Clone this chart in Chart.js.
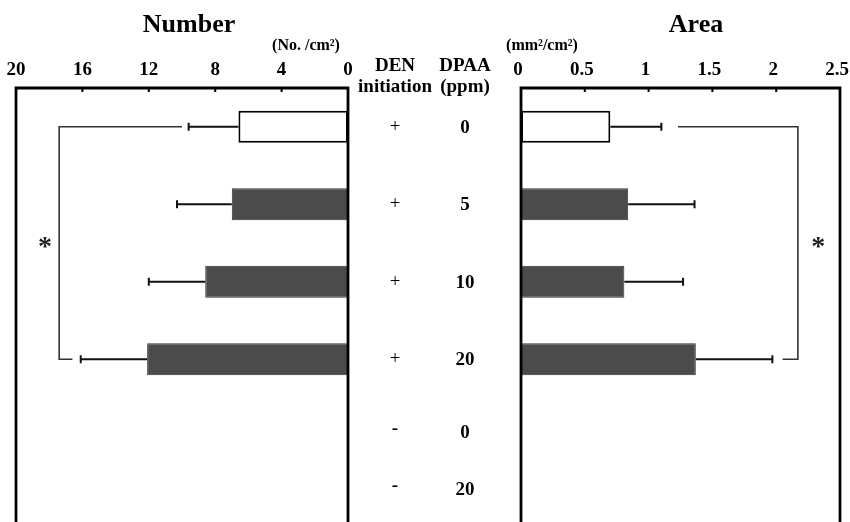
<!DOCTYPE html>
<html>
<head>
<meta charset="utf-8">
<script src="https://cdn.jsdelivr.net/npm/chart.js@4.4.1/dist/chart.umd.min.js"></script>
<style>
    html, body { margin: 0; padding: 0; background: #fff; overflow: hidden; width: 850px; height: 522px; }
    #numberChart { position: absolute; left: 0; top: 0; }
    #areaChart { position: absolute; left: 500px; top: 0; }
</style>
</head>
<body>
<canvas id="numberChart" width="500" height="553"></canvas>
<canvas id="areaChart" width="380" height="553"></canvas>
<script>
// data
const denInitiation = ['+', '+', '+', '+', '-', '-'];
const dpaaPpm = ['0', '5', '10', '20', '0', '20'];
const numberMean = [6.6, 7.0, 8.6, 12.1, null, null];
const numberSd = [3.0, 3.3, 3.4, 4.0, null, null];
const areaMean = [0.70, 0.84, 0.81, 1.37, null, null];
const areaSd = [0.40, 0.52, 0.46, 0.60, null, null];
const numberTicks = [0, 4, 8, 12, 16, 20];
const areaTicks = [0, 0.5, 1, 1.5, 2, 2.5];
// significance bracket: start, vertical, end (in axis units)
const numberSig = [10.0, 17.4, 16.6];
const areaSig = [1.23, 2.17, 2.05];

const rowLabels = dpaaPpm.map(function (p, i) { return denInitiation[i] + ' ' + p; });
const barFill = ['#ffffff', '#4b4b4b', '#4b4b4b', '#4b4b4b', '#4b4b4b', '#4b4b4b'];
const barEdge = ['#000000', '#333333', '#333333', '#333333', '#333333', '#333333'];
const serif = '"Liberation Serif", "Times New Roman", serif';

function panelPlugin(mean, sd, sig, starAt, drawText) {
    return {
        id: 'panel',
        afterDatasetsDraw: function (chart) {
            const ctx = chart.ctx;
            const a = chart.chartArea;
            const x = chart.scales.x;
            const y = chart.scales.y;
            ctx.save();

            // error bars
            ctx.strokeStyle = '#111';
            ctx.lineWidth = 2;
            mean.forEach(function (m, i) {
                if (m == null) return;
                const py = y.getPixelForValue(i);
                const x0 = x.getPixelForValue(m);
                const x1 = x.getPixelForValue(m + sd[i]);
                ctx.beginPath();
                ctx.moveTo(x0, py);
                ctx.lineTo(x1, py);
                ctx.moveTo(x1, py - 4);
                ctx.lineTo(x1, py + 4);
                ctx.stroke();
            });

            // bracket between 0 ppm and 20 ppm
            const yTop = y.getPixelForValue(0);
            const yBot = y.getPixelForValue(3);
            ctx.strokeStyle = '#333';
            ctx.lineWidth = 1.6;
            ctx.beginPath();
            ctx.moveTo(x.getPixelForValue(sig[0]), yTop);
            ctx.lineTo(x.getPixelForValue(sig[1]), yTop);
            ctx.lineTo(x.getPixelForValue(sig[1]), yBot);
            ctx.lineTo(x.getPixelForValue(sig[2]), yBot);
            ctx.stroke();

            ctx.fillStyle = '#222';
            ctx.font = 'bold 28px ' + serif;
            ctx.textAlign = 'center';
            ctx.textBaseline = 'middle';
            ctx.fillText('*', x.getPixelForValue(starAt), y.getPixelForValue(1.5) + 5);

            // box frame (open at bottom, runs off the page)
            ctx.strokeStyle = '#000';
            ctx.lineWidth = 2.8;
            ctx.beginPath();
            ctx.moveTo(a.left, chart.height);
            ctx.lineTo(a.left, a.top);
            ctx.lineTo(a.right, a.top);
            ctx.lineTo(a.right, chart.height);
            ctx.stroke();

            ctx.lineWidth = 2;
            ctx.beginPath();
            x.ticks.forEach(function (t, i) {
                const px = x.getPixelForTick(i);
                ctx.moveTo(px, a.top);
                ctx.lineTo(px, a.top + 4);
            });
            ctx.stroke();

            drawText(ctx, chart);
            ctx.restore();
        }
    };
}

function axisOptions(min, max, reverse, tickList, shift) {
    return {
        type: 'linear',
        position: 'top',
        min: min,
        max: max,
        reverse: reverse,
        afterBuildTicks: function (s) {
            s.ticks = tickList.map(function (v) { return { value: v }; });
        },
        afterFit: function (s) { s.height = 40; },
        grid: { display: false, drawTicks: false },
        border: { display: false },
        ticks: {
            color: '#000',
            padding: 7,
            labelOffset: shift,
            maxRotation: 0,
            autoSkip: false,
            font: { family: serif, size: 19, weight: 'bold' },
            callback: function (v) { return String(v); }
        }
    };
}

const baseOptions = {
    indexAxis: 'y',
    responsive: false,
    animation: false,
    plugins: { legend: { display: false }, tooltip: { enabled: false } }
};

const ntx = document.getElementById('numberChart').getContext('2d');
const numberChart = new Chart(ntx, {
    type: 'bar',
    data: {
        labels: rowLabels,
        datasets: [{
            data: numberMean,
            backgroundColor: barFill,
            borderColor: barEdge,
            borderWidth: [2, 1, 1, 1, 1, 1],
            borderSkipped: false,
            barPercentage: 0.41,
            categoryPercentage: 1
        }]
    },
    options: Object.assign({}, baseOptions, {
        layout: { padding: { left: 16, right: 152, top: 48, bottom: 0 } },
        scales: {
            x: axisOptions(0, 20, true, numberTicks, 0),
            y: { type: 'category', display: false }
        }
    }),
    plugins: [panelPlugin(numberMean, numberSd, numberSig, 18.25, function (ctx, chart) {
        const y = chart.scales.y;
        ctx.fillStyle = '#000';
        ctx.textAlign = 'center';
        ctx.textBaseline = 'middle';
        ctx.font = 'bold 26px ' + serif;
        ctx.fillText('Number', 189, 25);
        ctx.font = 'bold 16px ' + serif;
        ctx.fillText('(No. /cm\u00B2)', 306, 46);

        ctx.font = 'bold 19px ' + serif;
        ctx.fillText('DEN', 395, 66);
        ctx.fillText('initiation', 395, 87);
        ctx.fillText('DPAA', 465, 66);
        ctx.fillText('(ppm)', 465, 87);

        denInitiation.forEach(function (sign, i) {
            const py = y.getPixelForValue(i < 4 ? i : 3.94 + (i - 4) * 0.74);
            ctx.font = (sign === '+' ? '19px ' : 'bold 19px ') + serif;
            ctx.fillText(sign, 395, sign === '+' ? py : py - 3);
            ctx.font = 'bold 19px ' + serif;
            ctx.fillText(dpaaPpm[i], 465, py + 1);
        });
    })]
});

const atx = document.getElementById('areaChart').getContext('2d');
const areaChart = new Chart(atx, {
    type: 'bar',
    data: {
        labels: rowLabels,
        datasets: [{
            data: areaMean,
            backgroundColor: barFill,
            borderColor: barEdge,
            borderWidth: [2, 1, 1, 1, 1, 1],
            borderSkipped: false,
            barPercentage: 0.41,
            categoryPercentage: 1
        }]
    },
    options: Object.assign({}, baseOptions, {
        layout: { padding: { left: 21, right: 40, top: 48, bottom: 0 } },
        scales: {
            x: axisOptions(0, 2.5, false, areaTicks, -3),
            y: { type: 'category', display: false }
        }
    }),
    plugins: [panelPlugin(areaMean, areaSd, areaSig, 2.33, function (ctx) {
        ctx.fillStyle = '#000';
        ctx.textAlign = 'center';
        ctx.textBaseline = 'middle';
        ctx.font = 'bold 26px ' + serif;
        ctx.fillText('Area', 196, 25);
        ctx.font = 'bold 16px ' + serif;
        ctx.fillText('(mm\u00B2/cm\u00B2)', 42, 46);
    })]
});
</script>
</body>
</html>
